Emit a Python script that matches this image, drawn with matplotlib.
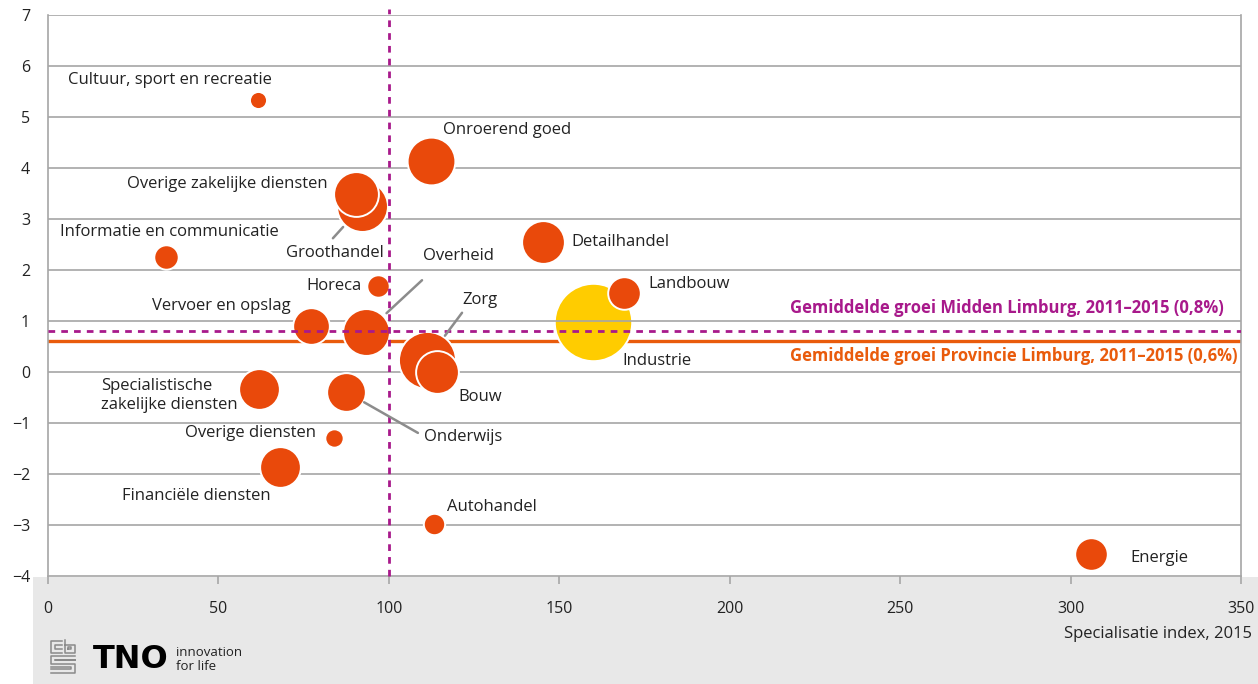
import numpy as np
import matplotlib.pyplot as plt
from matplotlib.patches import Rectangle
from matplotlib.lines import Line2D

plt.rcParams['font.family'] = ['Open Sans', 'DejaVu Sans']

# sectoren: specialisatie-index 2015, gemiddelde groei 2011-2015 (%), banen
sectoren = ['Cultuur, sport en recreatie', 'Onroerend goed', 'Overige zakelijke diensten',
            'Groothandel', 'Informatie en communicatie', 'Detailhandel', 'Horeca',
            'Landbouw', 'Vervoer en opslag', 'Overheid', 'Industrie', 'Zorg', 'Bouw',
            'Specialistische\nzakelijke diensten', 'Onderwijs', 'Overige diensten',
            'Financiële diensten', 'Autohandel', 'Energie']
spec_index = [61.6, 112.4, 90.4, 92.1, 34.6, 145.2, 96.8, 169.0, 77.2, 93.3,
              159.9, 111.2, 114.1, 61.9, 87.4, 83.9, 68.1, 113.3, 306.0]
groei = [5.33, 4.14, 3.49, 3.25, 2.25, 2.55, 1.69, 1.55, 0.90, 0.78,
         0.98, 0.24, 0.00, -0.33, -0.39, -1.29, -1.86, -2.98, -3.57]
banen = [700, 5500, 4840, 6250, 1440, 4410, 1210, 2560, 3240, 5290,
         14440, 7840, 4410, 4000, 3610, 810, 4000, 1100, 2560]

groei_midden = 0.8
groei_provincie = 0.6
x_ticks = [0, 50, 100, 150, 200, 250, 300, 350]
y_ticks = [-4, -3, -2, -1, 0, 1, 2, 3, 4, 5, 6, 7]

# label placement: (ha, dx, dy) in pixels from bubble centre
label_pos = {
    'Cultuur, sport en recreatie': ('right', 14, 20),
    'Onroerend goed': ('left', 12, 31),
    'Overige zakelijke diensten': ('right', -29, 10),
    'Groothandel': ('right', 22, -47),
    'Informatie en communicatie': ('center', 3, 25),
    'Detailhandel': ('left', 28, 0),
    'Horeca': ('right', -16, 0),
    'Landbouw': ('left', 24, 9),
    'Vervoer en opslag': ('right', -20, 20),
    'Overheid': ('left', 57, 76),
    'Industrie': ('left', 29, -39),
    'Zorg': ('left', 35, 60),
    'Bouw': ('left', 21, -25),
    'Specialistische\nzakelijke diensten': ('left', -158, -7),
    'Onderwijs': ('left', 78, -45),
    'Overige diensten': ('right', -18, 5),
    'Financiële diensten': ('right', -9, -29),
    'Autohandel': ('left', 13, 17),
    'Energie': ('left', 39, -4),
}
# leader lines: far end offset (px) and gap from bubble centre (px)
leaders = {
    'Groothandel': (-29, -32, 28),
    'Overheid': (56, 52, 28),
    'Zorg': (35, 47, 30),
    'Onderwijs': (72, -41, 21),
}

ORANJE = '#e9490b'
GEEL = '#ffcc00'
MAGENTA = '#a8198b'
LIJN_ORANJE = '#e95b0c'
GRIJS = '#a6a6a6'
TEKST = '#222222'
FS = 12

px = 0.72  # points per pixel at dpi 100

fig = plt.figure(figsize=(12.58, 6.84), dpi=100)
fig.patches.append(Rectangle((33 / 1258, 0), 1, 107 / 684, transform=fig.transFigure,
                             facecolor='#e8e8e8', edgecolor='none', zorder=-5))
ax = fig.add_axes([48 / 1258, 1 - 576 / 684, 1193 / 1258, 561 / 684])
ax.set_xlim(0, 350)
ax.set_ylim(-4, 7)

for y in y_ticks[1:]:
    ax.axhline(y, color=GRIJS, lw=1.2, zorder=3)
for s in ax.spines.values():
    s.set_color(GRIJS)
    s.set_linewidth(1.2)
ax.spines['top'].set_visible(False)

ax.axhline(groei_provincie, color=LIJN_ORANJE, lw=2.4, zorder=1)
ax.axhline(groei_midden, color=MAGENTA, lw=2.0, ls=(0, (2.4, 2.2)), zorder=6)
ax.axvline(100, color=MAGENTA, lw=2.0, ls=(0, (2.4, 2.2)), zorder=6, ymax=1.01,
           clip_on=False)

# grootste bellen eerst, zodat kleinere er bovenop liggen
volgorde = np.argsort(banen)[::-1]
for i in volgorde:
    geel = sectoren[i] == 'Industrie'
    ax.scatter(spec_index[i], groei[i], s=banen[i] * 0.215,
               color=GEEL if geel else ORANJE, edgecolors='white', linewidths=1.4,
               zorder=2 if geel else 4)

for naam, x, y in zip(sectoren, spec_index, groei):
    ha, dx, dy = label_pos[naam]
    ax.annotate(naam, (x, y), xytext=(dx * px, dy * px), textcoords='offset points',
                ha=ha, va='center', fontsize=FS, color=TEKST, zorder=7,
                linespacing=1.25)
    if naam in leaders:
        lx, ly, gap = leaders[naam]
        ax.annotate('', (x, y), xytext=(lx * px, ly * px), textcoords='offset points',
                    arrowprops=dict(arrowstyle='-', color='#8c8c8c', lw=1.8,
                                    shrinkA=0, shrinkB=gap * px), zorder=7)

ax.text(0.622, 0.478, 'Gemiddelde groei Midden Limburg, 2011\u20132015 (0,8%)',
        transform=ax.transAxes, color=MAGENTA, fontsize=FS, fontweight='bold',
        va='center', ha='left', zorder=7)
ax.text(0.622, 0.392, 'Gemiddelde groei Provincie Limburg, 2011\u20132015 (0,6%)',
        transform=ax.transAxes, color=LIJN_ORANJE, fontsize=FS, fontweight='bold',
        va='center', ha='left', zorder=7)

ax.set_xticks(x_ticks)
ax.set_yticks(y_ticks)
ax.set_yticklabels([str(v).replace('-', '\u2212') for v in y_ticks])
ax.tick_params(axis='x', length=6, width=1.2, color=GRIJS, pad=12,
               labelsize=11.5, labelcolor=TEKST)
ax.tick_params(axis='y', length=0, pad=13, labelsize=11.5, labelcolor=TEKST)

fig.text(1252 / 1258, 1 - 634 / 684, 'Specialisatie index, 2015', ha='right',
         va='center', fontsize=FS, color=TEKST)

# cbs beeldmerk
logo = fig.add_axes([48 / 1258, 1 - 674 / 684, 30 / 1258, 36 / 684])
logo.set_xlim(0, 10)
logo.set_ylim(0, 12)
logo.axis('off')
grijs_logo = '#8a8a8a'
for xs, ys in [([4.5, 1, 1, 4.5], [11, 11, 7, 7]),
               ([4.5, 2.2, 2.2, 4.5], [9.8, 9.8, 8.2, 8.2]),
               ([5.5, 5.5, 9, 9, 5.5], [11.5, 7, 7, 9.8, 9.8]),
               ([6.7, 6.7, 7.8, 7.8, 6.7], [8.2, 9, 9, 8.2, 8.2]),
               ([9, 1, 1, 9, 9, 1], [6, 6, 3.5, 3.5, 0.5, 0.5]),
               ([9, 2.2, 2.2, 9], [4.8, 4.8, 4.7, 4.7]),
               ([1, 7.8, 7.8, 1], [2.3, 2.3, 1.7, 1.7])]:
    logo.add_line(Line2D(xs, ys, color=grijs_logo, lw=1.1))

fig.text(93 / 1258, 1 - 660 / 684, 'TNO', fontsize=23, fontweight='heavy',
         family='DejaVu Sans', color='black', va='center', ha='left')
fig.text(176 / 1258, 1 - 652 / 684, 'innovation', fontsize=9.5, color='#222222',
         va='center', ha='left')
fig.text(176 / 1258, 1 - 667 / 684, 'for life', fontsize=9.5, color='#222222',
         va='center', ha='left')

fig.savefig('out.png', dpi=100)
